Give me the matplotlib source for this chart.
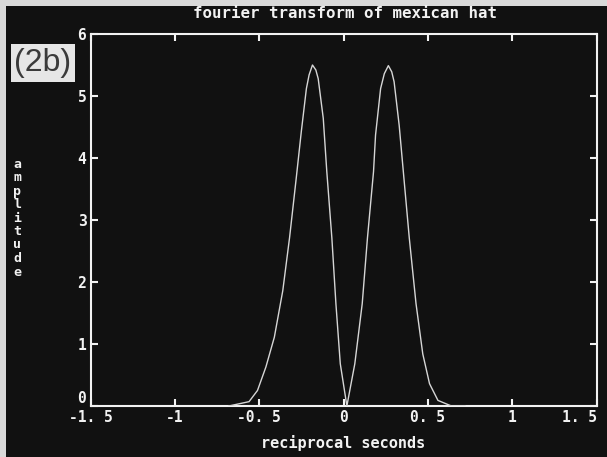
import matplotlib
matplotlib.use("Agg")
import matplotlib.pyplot as plt
from matplotlib.patches import Rectangle

# values
freq = [-0.68, -0.56, -0.51, -0.46, -0.41, -0.36, -0.32, -0.28, -0.25, -0.22,
        -0.204, -0.184, -0.164, -0.15, -0.12, -0.099, -0.069, -0.045, -0.019,
        0.02, 0.067, 0.111, 0.142, 0.178, 0.19, 0.22, 0.242, 0.266, 0.286,
        0.30, 0.33, 0.36, 0.39, 0.43, 0.47, 0.51, 0.56, 0.64, 0.72]
amp = [0.0, 0.07, 0.25, 0.63, 1.11, 1.86, 2.71, 3.68, 4.43, 5.12,
       5.34, 5.50, 5.42, 5.28, 4.64, 3.78, 2.71, 1.65, 0.68,
       0.0, 0.68, 1.65, 2.71, 3.78, 4.37, 5.12, 5.36, 5.49, 5.39,
       5.23, 4.53, 3.62, 2.71, 1.65, 0.84, 0.36, 0.09, 0.0, 0.0]

xticks = [-1.5, -1, -0.5, 0, 0.5, 1, 1.5]
xticklabels = ["-1. 5", "-1", "-0. 5", "0", "0. 5", "1", "1. 5"]
yticks = [0, 1, 2, 3, 4, 5, 6]

MONO = "DejaVu Sans Mono"
FG = "#f2f2f2"

fig = plt.figure(figsize=(6.07, 4.57), dpi=100)
fig.patch.set_facecolor("#d9d9d9")
# black screen area of the photographed plot
fig.patches.append(Rectangle((6 / 607, 0), 1, 1 - 6 / 457, transform=fig.transFigure,
                             facecolor="#111111", edgecolor="none", zorder=-5))

ax = fig.add_axes([90.5 / 607, 1 - 406 / 457, (596.5 - 90.5) / 607, (406 - 34) / 457])
ax.set_zorder(2)
ax.set_facecolor("#111111")
ax.plot(freq, amp, color="#d6d6d6", lw=1.0, zorder=3)

ax.set_xlim(-1.5, 1.5)
ax.set_ylim(0, 6)
ax.set_xticks(xticks)
ax.set_xticklabels(xticklabels)
ax.set_yticks(yticks)

for s in ax.spines.values():
    s.set_color(FG)
    s.set_linewidth(1.5)

ax.tick_params(direction="in", length=5, width=1.5, color=FG, labelcolor=FG,
               top=True, right=True, labelsize=10.5, pad=3)
for lab in ax.get_xticklabels() + ax.get_yticklabels():
    lab.set_family(MONO)
    lab.set_weight("bold")
# the zero of the y axis sits a little above the axis line, as in the original
ax.get_yticklabels()[0].set_va("bottom")
ax.get_xticklabels()[-1].set_ha("right")
ax.get_xticklabels()[-1].set_x(1.575)

fig.text(345 / 607, 1 - 14 / 457, "fourier transform of mexican hat", color=FG,
         family=MONO, weight="bold", fontsize=11.3, ha="center", va="center")
fig.text(343 / 607, 1 - 443 / 457, "reciprocal seconds", color=FG,
         family=MONO, weight="bold", fontsize=11, ha="center", va="center")
fig.text(17 / 607, 1 - 218 / 457, "\n".join("amplitude"), color=FG,
         family=MONO, weight="bold", fontsize=9.5, ha="center", va="center",
         linespacing=1.05)

fig.text(43 / 607, 1 - 63 / 457, "(2b)", color="#3a3a3a", family="Liberation Sans",
         fontsize=23, ha="center", va="center",
         bbox=dict(boxstyle="square,pad=0.12", facecolor="#e6e6e6", edgecolor="none"))

fig.savefig("out.png", dpi=100, facecolor=fig.get_facecolor())
